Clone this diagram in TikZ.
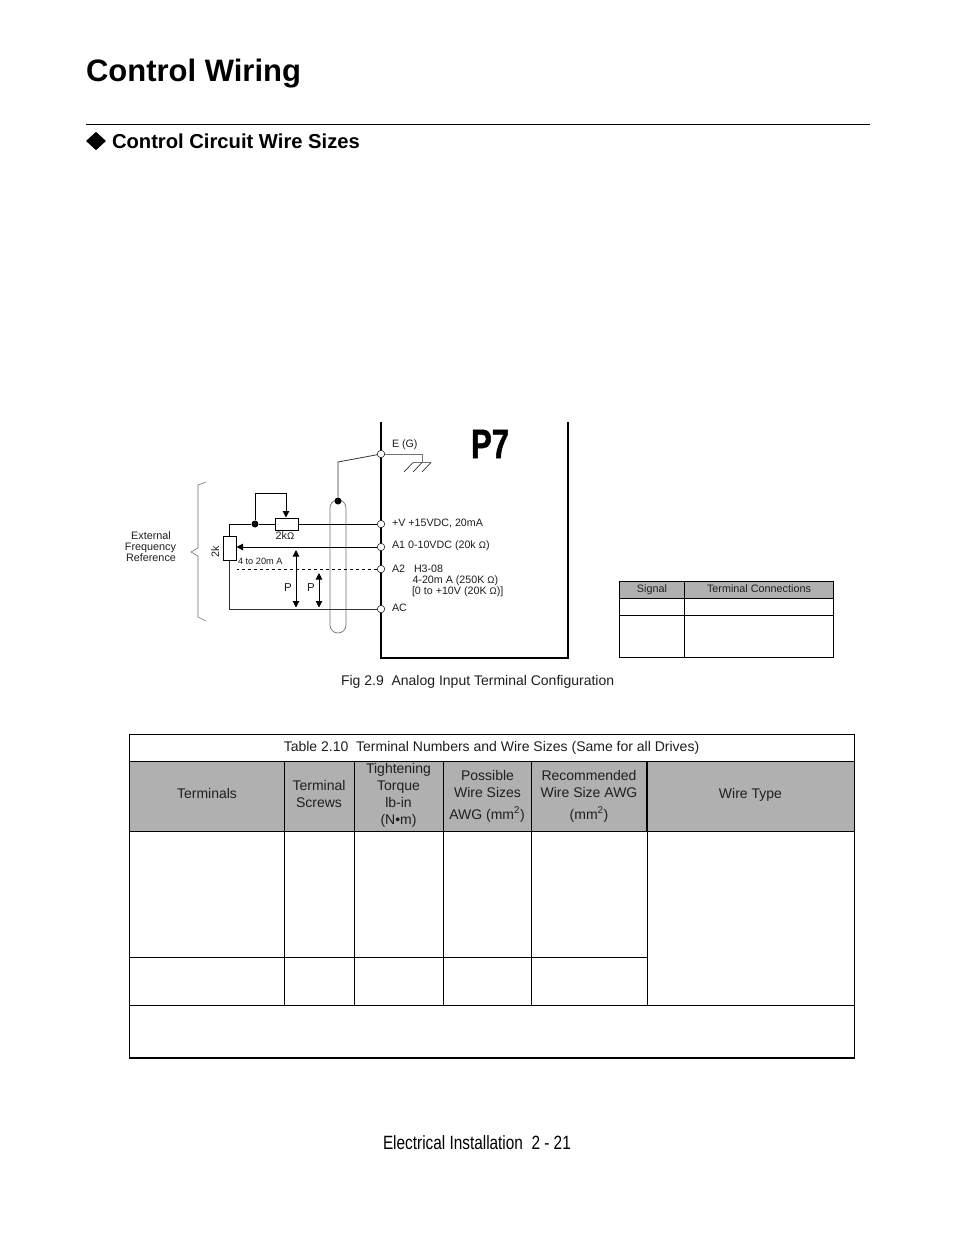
\documentclass[tikz,border=0pt]{standalone}
\usepackage{fontspec}
\setmainfont{Liberation Sans}
\newfontfamily\narrowfont[FakeStretch=0.80]{Liberation Sans}
\newfontfamily\condbold[FakeStretch=0.76,FakeBold=1.2]{Liberation Sans Bold}
\usetikzlibrary{arrows.meta,shapes.geometric}
\newcommand{\fsz}[1]{\fontsize{#1}{#1}\selectfont}
\newcommand{\ohm}{{\fontsize{9.6}{9.6}\selectfont Ω}}
\definecolor{hdr}{gray}{0.69}
\definecolor{ink}{gray}{0.12}
\definecolor{greyline}{gray}{0.45}
\tikzset{
 txt/.style={inner sep=0pt,outer sep=0pt,text=ink,anchor=base west},
 ctr/.style={inner sep=0pt,outer sep=0pt,text=ink,anchor=base,align=center},
 lab/.style={txt,font=\fsz{10.7}},
 small/.style={ctr,font=\fsz{10.8}},
 tbl/.style={ctr,font=\fsz{14}},
 term/.style={circle,draw=black,line width=0.5pt,fill=white,minimum size=7.5pt,inner sep=0pt},
 wire/.style={draw=black,line width=1pt},
 thinwire/.style={draw=black!80,line width=0.8pt},
 grey/.style={draw=greyline,line width=0.7pt},
 res/.style={draw=black,line width=1pt,fill=white,inner sep=0pt,rectangle},
 tip/.style={-{Triangle[length=6.5pt,width=6.5pt]}},
 dtip/.style={{Triangle[length=6.5pt,width=6.5pt]}-{Triangle[length=6.5pt,width=6.5pt]}},
 dotn/.style={circle,fill=black,minimum size=7pt,inner sep=0pt},
 rule/.style={draw=black,line width=1pt},
}
\begin{document}
\begin{tikzpicture}[x=1pt,y=-1pt]
\useasboundingbox[fill=white] (0,0) rectangle (954,1235);
% headings
\node[txt,font=\fsz{31}\bfseries,text=black] (title) at (86,81) {Control Wiring};
\draw[line width=0.8pt] (86,124.5) -- (870,124.5);
\node[diamond,fill=black,minimum width=20pt,minimum height=18.5pt,inner sep=0pt] (bullet) at (96,141) {};
\node[txt,font=\fsz{20.2}\bfseries,text=black] (head) at (112,148) {Control Circuit Wire Sizes};
% drive box
\coordinate (bl) at (381,658); \coordinate (br) at (568,658);
\coordinate (tl) at (381,422); \coordinate (tr) at (568,422);
\draw[line width=2pt] (tl) -- (bl) -- (br) -- (tr);
\node[txt,font=\fsz{41}\condbold,text=black] (p7) at (471,458) {P7};
% shield
\draw[grey,rounded corners=8pt] (330,500) rectangle (346,633);
% terminals
\node[term] (E) at (381,454) {};
\node[term] (V) at (381,524) {};
\node[term] (A1) at (381,547) {};
\node[term] (A2) at (381,569) {};
\node[term] (AC) at (381,609) {};
% resistors
\node[res,minimum width=23pt,minimum height=12pt] (rtop) at (286.5,524) {};
\node[res,minimum width=13pt,minimum height=24pt] (rleft) at (229.5,548) {};
\node[dotn] (d1) at (255,524) {};
\node[dotn] (d2) at (338,501) {};
\coordinate (c1) at (229.5,524);
\coordinate (c2) at (229.5,609);
\coordinate (c3) at (255,493);
\coordinate (c4) at (286,493);
\coordinate (c5) at (338,462);
\coordinate (c6) at (237,569);
% wires
\draw[wire] (V) -- (rtop);
\draw[wire] (rtop) -- (d1) -- (c1) -- (rleft);
\draw[wire,tip] (d1) -- (c3) -- (c4) -- (rtop.north -| c4);
\draw[thinwire] (rleft) -- (c2) -- (AC);
\draw[wire,tip] (A1) -- (rleft.east |- A1);
\draw[wire,dashed,dash pattern=on 3.5pt off 2.5pt] (A2) -- (c6);
\draw[thinwire] (E) -- (c5) -- (d2);
% ground
\coordinate (g1) at (422,454);
\coordinate (g2) at (422,462.5);
\coordinate (g3) at (413,462.5);
\coordinate (g4) at (431,462.5);
\draw[grey] (E) -- (g1) -- (g2);
\draw[grey] (g3) -- (g4);
\draw[thinwire,line width=0.7pt] (g3) -- ++(-9,9.5);
\draw[thinwire,line width=0.7pt] (g2) -- ++(-9,9.5);
\draw[thinwire,line width=0.7pt] (g4) -- ++(-9,9.5);
% P arrows
\coordinate (pa1) at (296,550); \coordinate (pa2) at (296,607.5);
\coordinate (pb1) at (319,573); \coordinate (pb2) at (319,607.5);
\draw[wire,dtip] (pa1) -- (pa2);
\draw[wire,dtip] (pb1) -- (pb2);
\node[small,font=\fsz{11.5}] (p1) at (288,591) {P};
\node[small,font=\fsz{11.5}] (p2) at (311,591) {P};
% brace
\draw[grey,line width=0.6pt] (206,482) -- (198,485) -- (198,548) -- (191,552) -- (198,556) -- (198,617) -- (206,621);
% left labels
\node[small] (ext1) at (151,539) {External};
\node[small] (ext2) at (150.5,550) {Frequency};
\node[small] (ext3) at (151,561) {Reference};
\node[small,anchor=base,rotate=90] (twok) at (219,552) {2k};
\node[small] (twokohm) at (285,539) {2k\ohm};
\node[lab,font=\fsz{9.2}] (ma) at (238,564) {4 to 20m A};
% terminal labels
\node[lab] (tE) at (392,447) {E (G)};
\node[lab] (tV) at (392,526) {+V +15VDC, 20mA};
\node[lab] (tA1) at (392,548) {A1 0-10VDC (20k \ohm)};
\node[lab] (tA2) at (392,572) {A2};
\node[lab] (tH) at (414,572) {H3-08};
\node[lab] (tma) at (412.5,583) {4-20m A (250K \ohm)};
\node[lab] (tv) at (412,594) {[0 to +10V (20K \ohm)]};
\node[lab] (tAC) at (392,611) {AC};
% signal table
\fill[hdr] (619.5,581) rectangle (833,598);
\draw[rule] (619.5,581) rectangle (833,657);
\draw[rule] (619.5,598) -- (833,598);
\draw[rule] (619.5,615) -- (833,615);
\draw[rule] (684,581) -- (684,657);
\node[small] (sig) at (652,592) {Signal};
\node[small] (tc) at (759,592) {Terminal Connections};
% caption
\node[txt,font=\fsz{14}] (cap) at (341,685) {Fig 2.9\ \ Analog Input Terminal Configuration};
% main table
\fill[hdr] (129,761) rectangle (854.5,831.5);
\draw[rule] (129,734.5) -- (854.5,734.5) -- (854.5,1058) -- (129,1058) -- cycle;
\draw[rule] (129,761) -- (854.5,761);
\draw[rule] (129,831.5) -- (854.5,831.5);
\draw[rule] (129,957.5) -- (647,957.5);
\draw[rule] (129,1005.5) -- (854.5,1005.5);
\draw[rule] (284,761) -- (284,1005.5);
\draw[rule] (354,761) -- (354,1005.5);
\draw[rule] (443.5,761) -- (443.5,1005.5);
\draw[rule] (531.5,761) -- (531.5,1005.5);
\draw[rule] (647,831.5) -- (647,1005.5);
\draw[line width=1.8pt] (647,761) -- (647,831.5);
\draw[line width=1.6pt] (129,1058) -- (854.5,1058);
\node[tbl] (tcap) at (491.5,751) {Table 2.10\ \ Terminal Numbers and Wire Sizes (Same for all Drives)};
\node[tbl] (h1) at (207,798) {Terminals};
\node[tbl] (h2a) at (319,790) {Terminal};
\node[tbl] (h2b) at (319,807) {Screws};
\node[tbl] (h3a) at (398.5,773) {Tightening};
\node[tbl] (h3b) at (398.5,790) {Torque};
\node[tbl] (h3c) at (398.5,807) {lb-in};
\node[tbl] (h3d) at (398.5,824) {(N•m)};
\node[tbl] (h4a) at (487.5,780) {Possible};
\node[tbl] (h4b) at (487.5,797) {Wire Sizes};
\node[tbl] (h4c) at (487,819) {AWG (mm\textsuperscript{2})};
\node[tbl] (h5a) at (589,780) {Recommended};
\node[tbl] (h5b) at (589,797) {Wire Size AWG};
\node[tbl] (h5c) at (589,819) {(mm\textsuperscript{2})};
\node[tbl] (h6) at (750.5,798) {Wire Type};
% footer
\node[txt,font=\fsz{19.2}\narrowfont,text=black] (foot) at (383,1149) {Electrical Installation\ \ 2 - 21};
\end{tikzpicture}
\end{document}
